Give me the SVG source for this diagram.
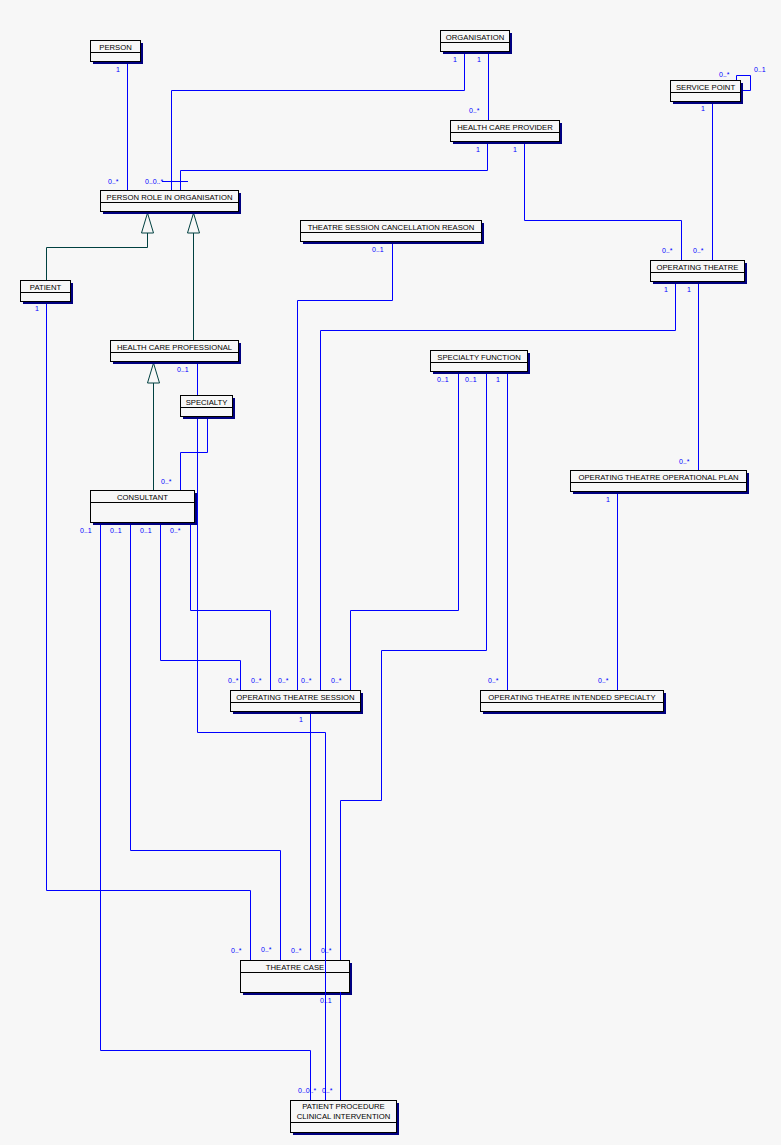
<svg xmlns="http://www.w3.org/2000/svg" width="781" height="1145" viewBox="0 0 781 1145">
<style>
.sh{fill:#000080}
.bx{fill:#f7f7f7;stroke:#000;stroke-width:1}
.dv{stroke:#000;stroke-width:1}
.t{font-family:"Liberation Sans",Arial,sans-serif;font-size:7.7px;fill:#000;text-anchor:middle}
.l{font-family:"Liberation Sans",Arial,sans-serif;font-size:7px;fill:#0000ff}
.c{fill:none;stroke:#0000ff;stroke-width:1}
.g{fill:none;stroke:#004040;stroke-width:1}
.tri{fill:#f7f7f7;stroke:#004040;stroke-width:1}
</style>
<rect x="0" y="0" width="781" height="1145" fill="#f7f7f7"/>

<g id="theatre-case">
<rect class="sh" x="243" y="963" width="109" height="32"/>
<rect class="bx" x="240.5" y="960.5" width="109" height="32"/>
<line class="dv" x1="240.5" y1="972.5" x2="349.5" y2="972.5"/>
<text class="t" x="295" y="969.5">THEATRE CASE</text>
</g>

<g id="connectors">
<path class="c" d="M127.5,61 V190"/>
<path class="c" d="M464.5,51 V90.5 H171.5 V190"/>
<path class="c" d="M488.5,51 V120"/>
<path class="c" d="M487.5,141 V170.5 H180.5 V190"/>
<path class="c" d="M162,181.5 H188"/>
<path class="c" d="M524.5,141 V220.5 H681.5 V260"/>
<path class="c" d="M736.5,80 V75.5 H750.5 V90.5 H741"/>
<path class="c" d="M712.5,101 V260"/>
<path class="c" d="M675.5,281 V330.5 H320.5 V690"/>
<path class="c" d="M698.5,281 V470"/>
<path class="c" d="M392.5,241 V300.5 H297.5 V690"/>
<path class="c" d="M458.5,371 V610.5 H350.5 V690"/>
<path class="c" d="M486.5,371 V650.5 H381.5 V800.5 H340.5 V960"/>
<path class="c" d="M507.5,371 V690"/>
<path class="c" d="M617.5,491 V690"/>
<path class="c" d="M207.5,416 V452.5 H180.5 V490"/>
<path class="c" d="M197.5,361 V732.5 H325.5 V1100"/>
<path class="c" d="M190.5,522 V610.5 H270.5 V690"/>
<path class="c" d="M160.5,522 V660.5 H240.5 V690"/>
<path class="c" d="M130.5,522 V850.5 H280.5 V960"/>
<path class="c" d="M100.5,522 V1050.5 H310.5 V1100"/>
<path class="c" d="M46.5,301 V890.5 H250.5 V960"/>
<path class="c" d="M310.5,711 V960"/>
<path class="c" d="M340.5,992 V1100"/>
<path class="g" d="M46.5,280 V247.5 H147.5 V233"/>
<path class="g" d="M193.5,340 V233"/>
<path class="g" d="M153.5,490 V383"/>
<polygon class="tri" points="147.5,213 141.5,233 153.5,233"/>
<polygon class="tri" points="193.5,213 187.5,233 199.5,233"/>
<polygon class="tri" points="153.5,363 147.5,383 159.5,383"/>
<text class="l" x="116" y="72">1</text>
<text class="l" x="108" y="184">0..*</text>
<text class="l" x="145" y="184">0..0..*</text>
<text class="l" x="453" y="62">1</text>
<text class="l" x="477" y="62">1</text>
<text class="l" x="469" y="113">0..*</text>
<text class="l" x="476" y="152">1</text>
<text class="l" x="513" y="152">1</text>
<text class="l" x="662" y="253">0..*</text>
<text class="l" x="693" y="253">0..*</text>
<text class="l" x="719" y="77">0..*</text>
<text class="l" x="754" y="72">0..1</text>
<text class="l" x="701" y="111">1</text>
<text class="l" x="664" y="292">1</text>
<text class="l" x="687" y="292">1</text>
<text class="l" x="372" y="252">0..1</text>
<text class="l" x="35" y="311">1</text>
<text class="l" x="177" y="372">0..1</text>
<text class="l" x="161" y="484">0..*</text>
<text class="l" x="437" y="382">0..1</text>
<text class="l" x="465" y="382">0..1</text>
<text class="l" x="496" y="382">1</text>
<text class="l" x="679" y="464">0..*</text>
<text class="l" x="606" y="502">1</text>
<text class="l" x="80" y="533">0..1</text>
<text class="l" x="110" y="533">0..1</text>
<text class="l" x="140" y="533">0..1</text>
<text class="l" x="170" y="533">0..*</text>
<text class="l" x="228" y="683">0..*</text>
<text class="l" x="251" y="683">0..*</text>
<text class="l" x="278" y="683">0..*</text>
<text class="l" x="301" y="683">0..*</text>
<text class="l" x="331" y="683">0..*</text>
<text class="l" x="299" y="722">1</text>
<text class="l" x="488" y="683">0..*</text>
<text class="l" x="598" y="683">0..*</text>
<text class="l" x="231" y="953">0..*</text>
<text class="l" x="261" y="952">0..*</text>
<text class="l" x="291" y="953">0..*</text>
<text class="l" x="321" y="953">0..*</text>
<text class="l" x="320" y="1003">0..1</text>
<text class="l" x="298" y="1093">0..0..*</text>
<text class="l" x="322" y="1093">0..*</text>
</g>

<g id="person">
<rect class="sh" x="93" y="43" width="50" height="21"/>
<rect class="bx" x="90.5" y="40.5" width="50" height="21"/>
<line class="dv" x1="90.5" y1="52.5" x2="140.5" y2="52.5"/>
<text class="t" x="115.5" y="49.5">PERSON</text>
</g>

<g id="person-role-in-organisation">
<rect class="sh" x="103" y="193" width="138" height="21"/>
<rect class="bx" x="100.5" y="190.5" width="138" height="21"/>
<line class="dv" x1="100.5" y1="202.5" x2="238.5" y2="202.5"/>
<text class="t" x="169.5" y="199.5">PERSON ROLE IN ORGANISATION</text>
</g>

<g id="organisation">
<rect class="sh" x="443" y="33" width="69" height="21"/>
<rect class="bx" x="440.5" y="30.5" width="69" height="21"/>
<line class="dv" x1="440.5" y1="42.5" x2="509.5" y2="42.5"/>
<text class="t" x="475" y="39.5">ORGANISATION</text>
</g>

<g id="health-care-provider">
<rect class="sh" x="453" y="123" width="109" height="21"/>
<rect class="bx" x="450.5" y="120.5" width="109" height="21"/>
<line class="dv" x1="450.5" y1="132.5" x2="559.5" y2="132.5"/>
<text class="t" x="505" y="129.5">HEALTH CARE PROVIDER</text>
</g>

<g id="service-point">
<rect class="sh" x="673" y="83" width="70" height="21"/>
<rect class="bx" x="670.5" y="80.5" width="70" height="21"/>
<line class="dv" x1="670.5" y1="92.5" x2="740.5" y2="92.5"/>
<text class="t" x="705.5" y="89.5">SERVICE POINT</text>
</g>

<g id="operating-theatre">
<rect class="sh" x="653" y="263" width="94" height="21"/>
<rect class="bx" x="650.5" y="260.5" width="94" height="21"/>
<line class="dv" x1="650.5" y1="272.5" x2="744.5" y2="272.5"/>
<text class="t" x="697.5" y="269.5">OPERATING THEATRE</text>
</g>

<g id="theatre-session-cancellation-reason">
<rect class="sh" x="303" y="223" width="181" height="21"/>
<rect class="bx" x="300.5" y="220.5" width="181" height="21"/>
<line class="dv" x1="300.5" y1="232.5" x2="481.5" y2="232.5"/>
<text class="t" x="391" y="229.5">THEATRE SESSION CANCELLATION REASON</text>
</g>

<g id="patient">
<rect class="sh" x="23" y="283" width="50" height="21"/>
<rect class="bx" x="20.5" y="280.5" width="50" height="21"/>
<line class="dv" x1="20.5" y1="292.5" x2="70.5" y2="292.5"/>
<text class="t" x="45.5" y="289.5">PATIENT</text>
</g>

<g id="health-care-professional">
<rect class="sh" x="113" y="343" width="128" height="21"/>
<rect class="bx" x="110.5" y="340.5" width="128" height="21"/>
<line class="dv" x1="110.5" y1="352.5" x2="238.5" y2="352.5"/>
<text class="t" x="174.5" y="349.5">HEALTH CARE PROFESSIONAL</text>
</g>

<g id="specialty">
<rect class="sh" x="183" y="398" width="52" height="21"/>
<rect class="bx" x="180.5" y="395.5" width="52" height="21"/>
<line class="dv" x1="180.5" y1="407.5" x2="232.5" y2="407.5"/>
<text class="t" x="206.5" y="404.5">SPECIALTY</text>
</g>

<g id="specialty-function">
<rect class="sh" x="433" y="353" width="97" height="21"/>
<rect class="bx" x="430.5" y="350.5" width="97" height="21"/>
<line class="dv" x1="430.5" y1="362.5" x2="527.5" y2="362.5"/>
<text class="t" x="479" y="359.5">SPECIALTY FUNCTION</text>
</g>

<g id="operating-theatre-operational-plan">
<rect class="sh" x="573" y="473" width="176" height="21"/>
<rect class="bx" x="570.5" y="470.5" width="176" height="21"/>
<line class="dv" x1="570.5" y1="482.5" x2="746.5" y2="482.5"/>
<text class="t" x="658.5" y="479.5">OPERATING THEATRE OPERATIONAL PLAN</text>
</g>

<g id="consultant">
<rect class="sh" x="93" y="493" width="104" height="32"/>
<rect class="bx" x="90.5" y="490.5" width="104" height="32"/>
<line class="dv" x1="90.5" y1="502.5" x2="194.5" y2="502.5"/>
<text class="t" x="142.5" y="499.5">CONSULTANT</text>
</g>

<g id="operating-theatre-session">
<rect class="sh" x="233" y="693" width="130" height="21"/>
<rect class="bx" x="230.5" y="690.5" width="130" height="21"/>
<line class="dv" x1="230.5" y1="702.5" x2="360.5" y2="702.5"/>
<text class="t" x="295.5" y="699.5">OPERATING THEATRE SESSION</text>
</g>

<g id="operating-theatre-intended-specialty">
<rect class="sh" x="483" y="693" width="183" height="21"/>
<rect class="bx" x="480.5" y="690.5" width="183" height="21"/>
<line class="dv" x1="480.5" y1="702.5" x2="663.5" y2="702.5"/>
<text class="t" x="572" y="699.5">OPERATING THEATRE INTENDED SPECIALTY</text>
</g>

<g id="patient-procedure-clinical-intervention">
<rect class="sh" x="293" y="1103" width="106" height="32"/>
<rect class="bx" x="290.5" y="1100.5" width="106" height="32"/>
<line class="dv" x1="290.5" y1="1122.5" x2="396.5" y2="1122.5"/>
<text class="t" x="343.5" y="1109">PATIENT PROCEDURE</text>
<text class="t" x="343.5" y="1119">CLINICAL INTERVENTION</text>
</g>
</svg>
